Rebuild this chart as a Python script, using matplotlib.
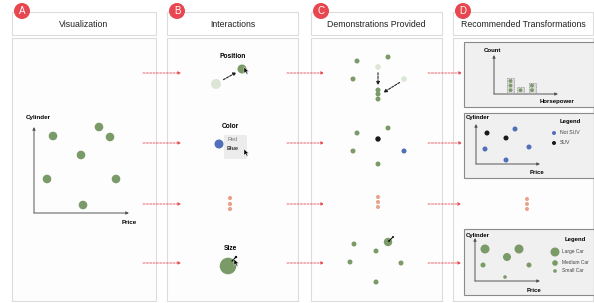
import matplotlib.pyplot as plt
from matplotlib.patches import Circle, Rectangle, Polygon, FancyArrowPatch

plt.rcParams['font.family'] = ['Liberation Sans', 'DejaVu Sans']

GREEN = "#7a9a67"
LIGHT_GREEN = "#dce6d4"
BLUE = "#4f6fb8"
BLACK = "#1a1a1a"
SALMON = "#e9a28c"
RED = "#e8474f"
BORDER = "#dcdcdc"

# panel layout: (label, title, left, right)
panels = [("A", "Visualization", 12, 156),
          ("B", "Interactions", 167, 298),
          ("C", "Demonstrations Provided", 311, 442),
          ("D", "Recommended Transformations", 453, 593)]

# rows of dashed arrows
row_y = [73, 143, 204, 263]
arrow_spans = [[(143, 181), (287, 324), (428, 462)],
               [(143, 181), (287, 324), (428, 462)],
               [(143, 181), (287, 324), (428, 461)],
               [(143, 181), (287, 324), (428, 461)]]

# panel A scatter
a_x = [53, 99, 110, 81, 47, 116, 83]
a_y = [136, 127, 137, 155, 179, 179, 205]

# panel C demos
c1_x = [357, 388, 353, 378, 378, 378]
c1_y = [61, 57, 79, 90, 94, 99]
c1_ghost_x = [378, 404]
c1_ghost_y = [67, 79]
c2_x = [357, 388, 353, 378]
c2_y = [133, 128, 151, 164]
c2_black = (378, 139)
c2_blue = (404, 151)
c4_x = [354, 376, 350, 401, 376]
c4_y = [244, 251, 262, 263, 282]
c4_big = (388, 242)

# panel D: histogram of counts
hist_counts = [3, 1, 2]
hist_x = [510.5, 520.5, 532]

# panel D: color transform
d2_x = [487, 515, 506, 485, 529, 506]
d2_y = [133, 129, 138, 149, 147, 160]
d2_suv = [True, False, True, False, False, False]

# panel D: size transform
d4_x = [485, 507, 519, 483, 529, 505]
d4_y = [249, 257, 249, 265, 265, 277]
d4_r = [4.5, 4.0, 4.5, 2.5, 2.5, 1.8]
size_labels = ["Large Car", "Medium Car", "Small Car"]
size_r = [4.5, 2.8, 1.8]


def dot(ax, x, y, r, color, z=3):
    ax.add_patch(Circle((x, y), r, facecolor=color, edgecolor="none", zorder=z))


def cursor(ax, x, y, s=0.9):
    pts = [(0, 0), (0, 7), (1.8, 5.4), (3.2, 8.2), (4.3, 7.6), (3.0, 4.9), (5.3, 4.9)]
    ax.add_patch(Polygon([(x + px * s, y + py * s) for px, py in pts],
                         closed=True, facecolor="black", edgecolor="white",
                         linewidth=0.3, zorder=6))


def dash_arrow(ax, p0, p1, color="#222222", lw=0.8):
    ax.add_patch(FancyArrowPatch(p0, p1, arrowstyle="-|>", mutation_scale=4.5,
                                 color=color, linewidth=lw, linestyle=(0, (2, 1.2)),
                                 zorder=5))


def mini_axes(ax, x0, y0, x1, y1):
    ax.annotate("", xy=(x1, y0), xytext=(x0, y0),
                arrowprops=dict(arrowstyle="-|>", color="#555555", lw=0.7,
                                mutation_scale=4, shrinkA=0, shrinkB=0))
    ax.annotate("", xy=(x0, y1), xytext=(x0, y0),
                arrowprops=dict(arrowstyle="-|>", color="#555555", lw=0.7,
                                mutation_scale=4, shrinkA=0, shrinkB=0))


fig = plt.figure(figsize=(5.94, 3.03), dpi=100)
ax = fig.add_axes([0, 0, 1, 1])
ax.set_xlim(0, 594)
ax.set_ylim(303, 0)
ax.axis("off")

for label, title, left, right in panels:
    ax.add_patch(Rectangle((left, 12), right - left, 23, facecolor="white",
                           edgecolor=BORDER, linewidth=0.8, zorder=1))
    ax.add_patch(Rectangle((left, 38), right - left, 263, facecolor="#fdfdfd",
                           edgecolor=BORDER, linewidth=0.8, zorder=1))
    ax.text((left + right) / 2, 24.5, title, ha="center", va="center",
            fontsize=6.3, color="#222222", zorder=2)
    ax.add_patch(Circle((left + 10, 11), 8, facecolor=RED, edgecolor="none", zorder=4))
    ax.text(left + 10, 11.5, label, ha="center", va="center", fontsize=7,
            color="white", zorder=5)

# red dashed arrows between panels
for y, spans in zip(row_y, arrow_spans):
    for x0, x1 in spans:
        ax.annotate("", xy=(x1, y), xytext=(x0, y),
                    arrowprops=dict(arrowstyle="-|>", color=RED, lw=0.6,
                                    linestyle=(0, (2.5, 1.5)), mutation_scale=4,
                                    shrinkA=0, shrinkB=0), zorder=2)

# ---- panel A
mini_axes(ax, 34, 213, 129, 127)
ax.text(26, 118, "Cylinder", fontsize=4.5, fontweight="bold", va="center")
ax.text(122, 222, "Price", fontsize=4.5, fontweight="bold", va="center")
for x, y in zip(a_x, a_y):
    dot(ax, x, y, 4.3, GREEN)

# ---- panel B
ax.text(233, 56, "Position", fontsize=4.8, fontweight="bold", ha="center", va="center")
dot(ax, 216, 84, 5, LIGHT_GREEN)
dot(ax, 242, 69, 4.5, GREEN)
dash_arrow(ax, (221, 81), (239, 71))
cursor(ax, 244, 67)

ax.text(230, 126, "Color", fontsize=4.8, fontweight="bold", ha="center", va="center")
dot(ax, 219, 144, 4.5, BLUE)
ax.add_patch(Rectangle((224, 135), 23, 24, facecolor="#ececec", edgecolor="none", zorder=3))
ax.text(227, 139.5, "Red", fontsize=4, color="#777777", va="center", zorder=4)
ax.text(227, 148, "Blue", fontsize=4, fontweight="bold", color="#333333", va="center", zorder=4)
cursor(ax, 244, 149)

for yy in [198, 204, 209]:
    dot(ax, 230, yy, 2.1, SALMON)

ax.text(230, 248, "Size", fontsize=4.8, fontweight="bold", ha="center", va="center")
dot(ax, 228, 266, 8.3, GREEN)
dot(ax, 236, 257, 1.2, BLACK, z=5)
ax.plot([232, 236], [261, 257], color="black", lw=0.8, zorder=5)
cursor(ax, 234, 259)

# ---- panel C
for x, y in zip(c1_x, c1_y):
    dot(ax, x, y, 2.5, GREEN)
for x, y in zip(c1_ghost_x, c1_ghost_y):
    dot(ax, x, y, 2.8, LIGHT_GREEN)
dash_arrow(ax, (378, 70), (378, 88))
dash_arrow(ax, (402, 81), (381, 94))
for x, y in zip(c2_x, c2_y):
    dot(ax, x, y, 2.5, GREEN)
dot(ax, c2_black[0], c2_black[1], 2.7, BLACK)
dot(ax, c2_blue[0], c2_blue[1], 2.5, BLUE)
for yy in [197, 202, 207]:
    dot(ax, 378, yy, 2.0, SALMON)
for x, y in zip(c4_x, c4_y):
    dot(ax, x, y, 2.5, GREEN)
dot(ax, c4_big[0], c4_big[1], 4.2, GREEN)
ax.plot([389, 393], [241, 237], color="black", lw=0.7, zorder=5)
dot(ax, 393, 237, 1.0, BLACK, z=5)
dot(ax, 389, 241, 1.0, BLACK, z=5)

# ---- panel D, box 1: histogram
ax.add_patch(Rectangle((464, 42), 130, 65, facecolor="#f0f0f0", edgecolor="#8a8a8a",
                       linewidth=0.8, zorder=2))
mini_axes(ax, 494, 94, 558, 55)
ax.text(484, 51, "Count", fontsize=4.3, fontweight="bold", va="center", zorder=4)
ax.text(540, 101, "Horsepower", fontsize=4.3, fontweight="bold", va="center", zorder=4)
for cx, n in zip(hist_x, hist_counts):
    ax.add_patch(Rectangle((cx - 3.5, 93 - 4.6 * n - 1), 7, 4.6 * n + 1,
                           facecolor="#dadada", edgecolor="#888888", linewidth=0.5,
                           linestyle=(0, (1.5, 1)), zorder=3))
    for k in range(n):
        dot(ax, cx, 93 - 2.8 - 4.6 * k, 1.9, GREEN, z=4)

# ---- panel D, box 2: color
ax.add_patch(Rectangle((464, 113), 130, 65, facecolor="#f0f0f0", edgecolor="#8a8a8a",
                       linewidth=0.8, zorder=2))
mini_axes(ax, 476, 164, 540, 124)
ax.text(466, 118, "Cylinder", fontsize=4.3, fontweight="bold", va="center", zorder=4)
ax.text(530, 172, "Price", fontsize=4.3, fontweight="bold", va="center", zorder=4)
for x, y, suv in zip(d2_x, d2_y, d2_suv):
    dot(ax, x, y, 2.5, BLACK if suv else BLUE, z=4)
ax.text(570, 121, "Legend", fontsize=4.3, fontweight="bold", ha="center", va="center", zorder=4)
dot(ax, 554, 133, 2.0, BLUE, z=4)
ax.text(560, 132, "Not SUV", fontsize=3.7, color="#444444", va="center", zorder=4)
dot(ax, 554, 143, 2.0, BLACK, z=4)
ax.text(560, 142, "SUV", fontsize=3.7, color="#444444", va="center", zorder=4)

for yy in [199, 204, 209]:
    dot(ax, 527, yy, 2.0, SALMON)

# ---- panel D, box 3: size
ax.add_patch(Rectangle((464, 229), 130, 66, facecolor="#f0f0f0", edgecolor="#8a8a8a",
                       linewidth=0.8, zorder=2))
mini_axes(ax, 475, 281, 540, 238)
ax.text(466, 235, "Cylinder", fontsize=4.3, fontweight="bold", va="center", zorder=4)
ax.text(527, 290, "Price", fontsize=4.3, fontweight="bold", va="center", zorder=4)
for x, y, r in zip(d4_x, d4_y, d4_r):
    dot(ax, x, y, r, GREEN, z=4)
ax.text(575, 239, "Legend", fontsize=4.3, fontweight="bold", ha="center", va="center", zorder=4)
for yy, r, lab in zip([252, 263, 271], size_r, size_labels):
    dot(ax, 555, yy, r, GREEN, z=4)
    ax.text(562, yy - 1, lab, fontsize=3.5, color="#444444", va="center", zorder=4)

fig.savefig("out.png", dpi=100)
